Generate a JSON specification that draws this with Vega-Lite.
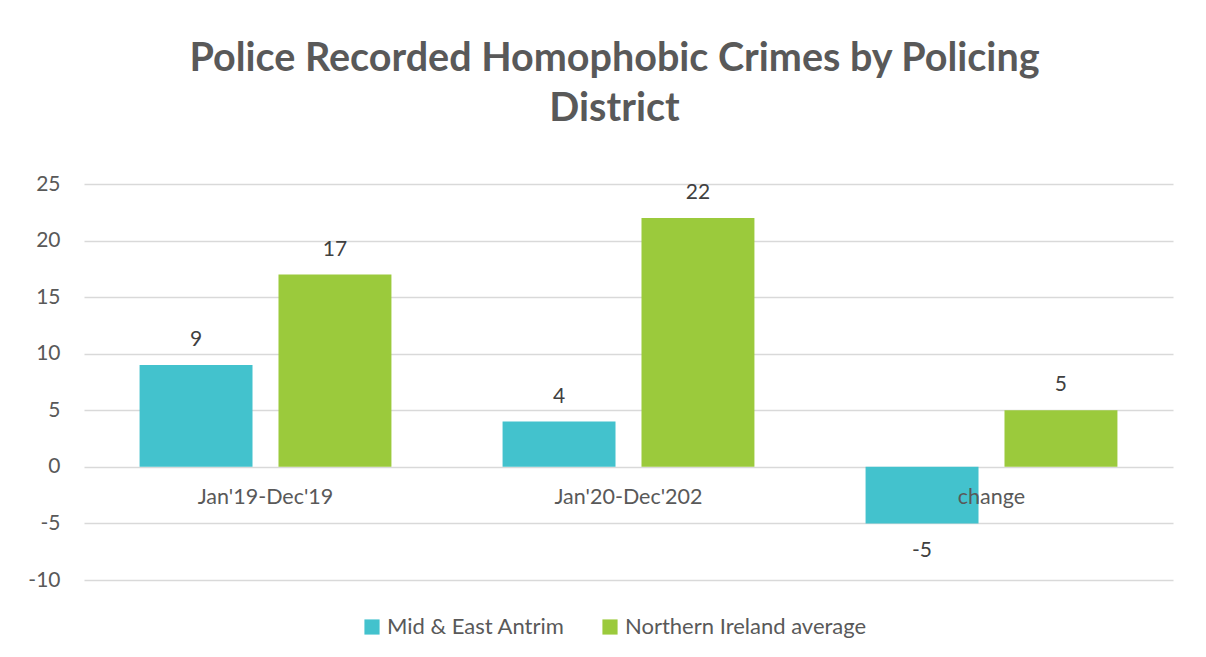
{
  "$schema": "https://vega.github.io/schema/vega-lite/v6.json",
  "width": 1089,
  "height": 396,
  "autosize": {"type": "none"},
  "padding": {"left": 84, "top": 184, "right": 33, "bottom": 77},
  "background": "white",
  "title": {
    "text": ["Police Recorded Homophobic Crimes by Policing", "District"],
    "font": "Lato",
    "fontSize": 39.5,
    "fontWeight": "bold",
    "color": "#595959",
    "anchor": "middle",
    "lineHeight": 50,
    "offset": 44,
    "dx": -14
  },
  "config": {
    "view": {"stroke": null},
    "font": "Lato"
  },
  "data": {
    "values": [
      {"period": "Jan'19-Dec'19", "series": "Mid & East Antrim", "value": 9},
      {"period": "Jan'19-Dec'19", "series": "Northern Ireland average", "value": 17},
      {"period": "Jan'20-Dec'202", "series": "Mid & East Antrim", "value": 4},
      {"period": "Jan'20-Dec'202", "series": "Northern Ireland average", "value": 22},
      {"period": "change", "series": "Mid & East Antrim", "value": -5},
      {"period": "change", "series": "Northern Ireland average", "value": 5}
    ]
  },
  "encoding": {
    "x": {
      "field": "period",
      "type": "nominal",
      "sort": null,
      "scale": {"paddingInner": 0, "paddingOuter": 0},
      "axis": null
    },
    "y": {
      "field": "value",
      "type": "quantitative",
      "scale": {"domain": [-10, 25], "nice": false, "zero": false},
      "axis": {
        "values": [-10, -5, 0, 5, 10, 15, 20, 25],
        "labelExpr": "replace(datum.label, '\u2212', '-')",
        "title": null,
        "domain": false,
        "ticks": false,
        "labelPadding": 24,
        "labelFontSize": 21,
        "labelColor": "#595959",
        "labelFont": "Lato",
        "gridColor": "#d9d9d9",
        "gridWidth": 1.5
      }
    }
  },
  "layer": [
    {
      "mark": {"type": "bar"},
      "encoding": {
        "xOffset": {
          "field": "series",
          "type": "nominal",
          "scale": {"paddingInner": 0.187, "paddingOuter": 0.4}
        },
        "color": {
          "field": "series",
          "type": "nominal",
          "scale": {
            "domain": ["Mid & East Antrim", "Northern Ireland average"],
            "range": ["#43C2CD", "#9BCA3C"]
          },
          "legend": {
            "title": null,
            "orient": "none",
            "direction": "horizontal",
            "legendX": 277,
            "legendY": 432,
            "symbolType": "square",
            "symbolSize": 230,
            "symbolStrokeWidth": 0,
            "labelFontSize": 22,
            "labelColor": "#595959",
            "labelFont": "Lato",
            "labelLimit": 0,
            "columnPadding": 34,
            "labelOffset": 4
          }
        },
        "y2": {"datum": 0}
      }
    },
    {
      "transform": [{"filter": "datum.value >= 0"}],
      "mark": {"type": "text", "fontSize": 21, "color": "#404040", "dy": -25, "font": "Lato"},
      "encoding": {
        "xOffset": {"field": "series", "type": "nominal"},
        "text": {"field": "value", "type": "nominal"}
      }
    },
    {
      "transform": [{"filter": "datum.value < 0"}],
      "mark": {"type": "text", "fontSize": 21, "color": "#404040", "dy": 28, "font": "Lato"},
      "encoding": {
        "xOffset": {"field": "series", "type": "nominal"},
        "text": {"field": "value", "type": "nominal"}
      }
    },
    {
      "transform": [{"filter": "datum.series === 'Mid & East Antrim'"}],
      "mark": {"type": "text", "fontSize": 21.5, "color": "#595959", "dy": 31, "font": "Lato"},
      "encoding": {
        "y": {"datum": 0},
        "text": {"field": "period", "type": "nominal"}
      }
    }
  ]
}
